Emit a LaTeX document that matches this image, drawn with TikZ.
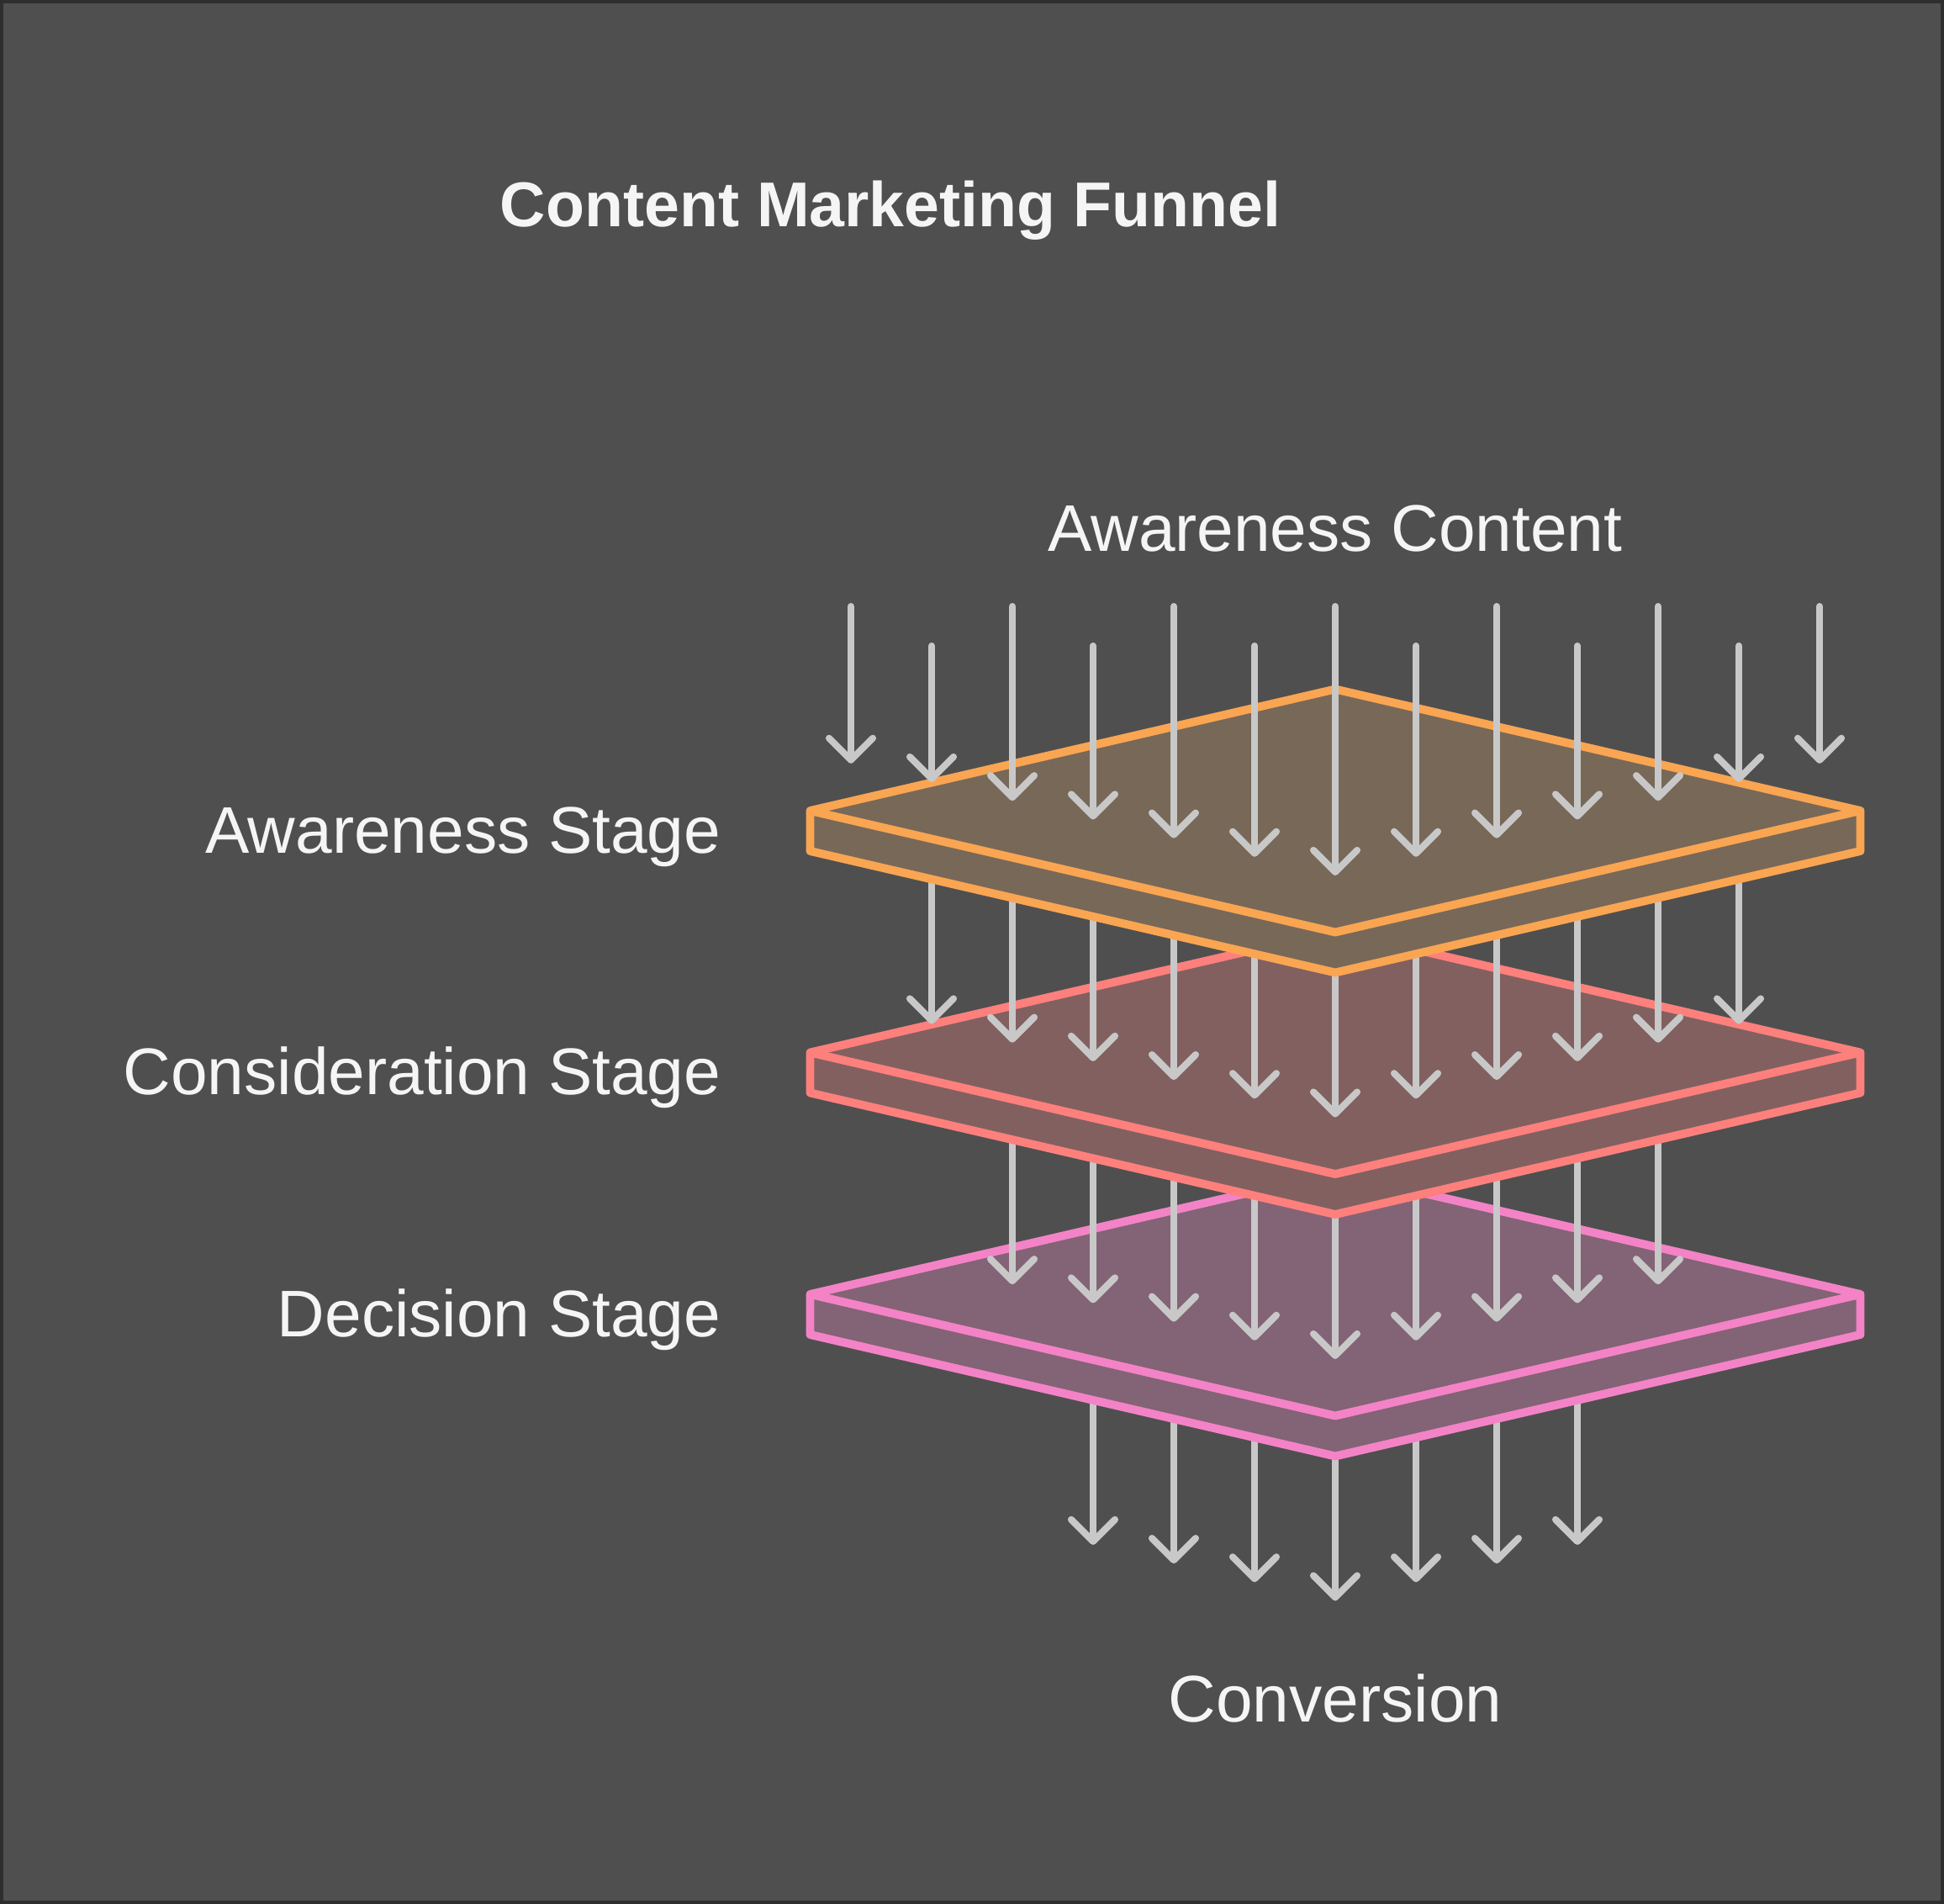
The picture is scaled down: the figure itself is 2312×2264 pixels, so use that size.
\documentclass[tikz,border=0pt]{standalone}
\usepackage{fontspec}
\setmainfont{Liberation Sans}
\usetikzlibrary{arrows.meta}
\definecolor{bgray}{HTML}{4F4F4F}
\definecolor{framegray}{HTML}{2E2E2E}
\definecolor{arrowgray}{HTML}{C8C8C8}
\definecolor{txt}{HTML}{F5F5F5}
\definecolor{awLine}{HTML}{F9A552}
\definecolor{awFill}{HTML}{786858}
\definecolor{coLine}{HTML}{FD807D}
\definecolor{coFill}{HTML}{826060}
\definecolor{deLine}{HTML}{F383C6}
\definecolor{deFill}{HTML}{836376}
\tikzset{
flowarrow/.style={draw=arrowgray, line width=2.3pt, line cap=round, -{Straight Barb[length=0.26cm,width=0.52cm,round]}},
slab/.style={line width=2.8pt, line join=round},
stagetext/.style={text=txt, font=\fontsize{22.3pt}{26pt}\selectfont, inner sep=0pt}
}
% one slab of the funnel: mid y, line colour, fill colour
\newcommand{\slab}[3]{
\draw[slab, draw=#2, fill=#3] (963.5,#1) -- (1588,#1-144.5) -- (2212.5,#1) -- (2212.5,#1+48) -- (1588,#1+192.5) -- (963.5,#1+48) -- cycle;
\draw[slab, draw=#2] (963.5,#1) -- (1588,#1+144.5) -- (2212.5,#1);
}

\begin{document}
\begin{tikzpicture}[x=0.01cm, y=-0.01cm]
\useasboundingbox (0,0) rectangle (2312,2264);
\fill[framegray] (0,0) rectangle (2312,2264);
\fill[bgray] (4,4) rectangle (2308,2260);

\node[stagetext, anchor=base, font=\fontsize{21.4pt}{26pt}\selectfont\bfseries] (title) at (1059,270) {Content Marketing Funnel};

% lower layers, drawn from the bottom up
\foreach \L/\m/\lc/\fc in {4/1539/deLine/deFill, 3/1251.5/coLine/coFill, 2/964/awLine/awFill} {
  \pgfmathtruncatemacro\n{7-\L}
  \foreach \k in {-\n,...,\n} {
    \coordinate (a\L s\k) at ({1588+96*(\k)}, \m);
    \coordinate (a\L e\k) at ({1588+96*(\k)}, {1041+287.5*(\L-1)-22.2*abs(\k)});
    \draw[flowarrow] (a\L s\k) -- (a\L e\k);
  }
  \slab{\m}{\lc}{\fc}
}

% top layer
\foreach \k in {-6,...,6} {
  \pgfmathsetmacro\ys{mod(abs(\k),2)==1 ? 768 : 721}
  \coordinate (a1s\k) at ({1588+96*(\k)}, \ys);
  \coordinate (a1e\k) at ({1588+96*(\k)}, {1041-22.2*abs(\k)});
  \draw[flowarrow] (a1s\k) -- (a1e\k);
}

\node[stagetext, anchor=base] (awareContent) at (1588,655) {Awareness Content};
\node[stagetext, anchor=base east] (awareStage) at (858,1014) {Awareness Stage};
\node[stagetext, anchor=base east] (considStage) at (858,1301.5) {Consideration Stage};
\node[stagetext, anchor=base east] (decisStage) at (858,1589) {Decision Stage};
\node[stagetext, anchor=base] (conversion) at (1588,2047) {Conversion};
\end{tikzpicture}
\end{document}
